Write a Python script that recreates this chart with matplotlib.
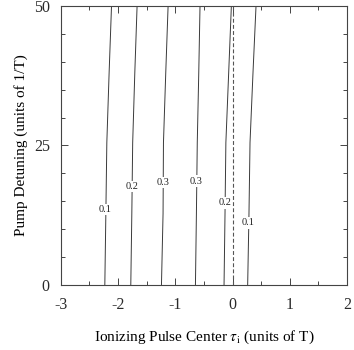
import numpy as np
import matplotlib
matplotlib.use('Agg')
import matplotlib.pyplot as plt
from matplotlib.ticker import MultipleLocator

plt.rcParams['font.family'] = ['Liberation Serif', 'DejaVu Serif']
plt.rcParams['mathtext.fontset'] = 'stix'
plt.rcParams['axes.unicode_minus'] = False

# contour lines: x position at each detuning value
detuning = [0, 12.8, 25.5, 38, 50]
contour_levels = ['0.1', '0.2', '0.3', '0.3', '0.2', '0.1']
contour_x = [
    [-2.232, -2.214, -2.197, -2.157, -2.115],
    [-1.778, -1.760, -1.745, -1.708, -1.668],
    [-1.242, -1.214, -1.207, -1.167, -1.126],
    [-0.648, -0.631, -0.616, -0.590, -0.568],
    [-0.148, -0.131, -0.116, -0.067, -0.020],
    [0.265, 0.288, 0.306, 0.358, 0.411],
]
# label positions on each line
label_x = [-2.220, -1.752, -1.215, -0.636, -0.135, 0.280]
label_y = [13.5, 17.7, 18.4, 18.6, 14.7, 11.1]
pump_center = 0.0

fig = plt.figure(figsize=(3.54, 3.5), dpi=100)
ax = fig.add_axes([0.172, 0.186, 0.808, 0.797])

for xs in contour_x:
    ax.plot(xs, detuning, color='#3a3a3a', lw=0.7)
for (lx, ly, lv) in zip(label_x, label_y, contour_levels):
    ax.text(lx, ly, lv, ha='center', va='center', fontsize=7.5, color='#222222',
            bbox=dict(facecolor='white', edgecolor='none', pad=0.8))
ax.axvline(pump_center, color='#555555', lw=0.8, ls=(0, (3.5, 2)))

ax.set_xlim(-3, 2)
ax.set_ylim(0, 50)
ax.xaxis.set_major_locator(MultipleLocator(1))
ax.xaxis.set_minor_locator(MultipleLocator(0.5))
ax.yaxis.set_major_locator(MultipleLocator(25))
ax.yaxis.set_minor_locator(MultipleLocator(5))
ax.tick_params(which='both', direction='in', top=True, right=True, colors='#444444',
               labelcolor='#2a2a2a', labelsize=11.5, width=0.7)
ax.tick_params(which='major', length=5)
ax.tick_params(which='minor', length=3)
ax.tick_params(axis='x', which='major', pad=9)
ax.tick_params(axis='y', which='major', pad=8)
for s in ax.spines.values():
    s.set_color('#444444')
    s.set_linewidth(0.8)

ax.set_xlabel(r'Ionizing Pulse Center $\tau_{\rm i}$ (units of T)', fontsize=11, labelpad=11)
ax.set_ylabel('Pump Detuning (units of 1/T)', fontsize=11, labelpad=4)

fig.savefig('out.png', dpi=100)
